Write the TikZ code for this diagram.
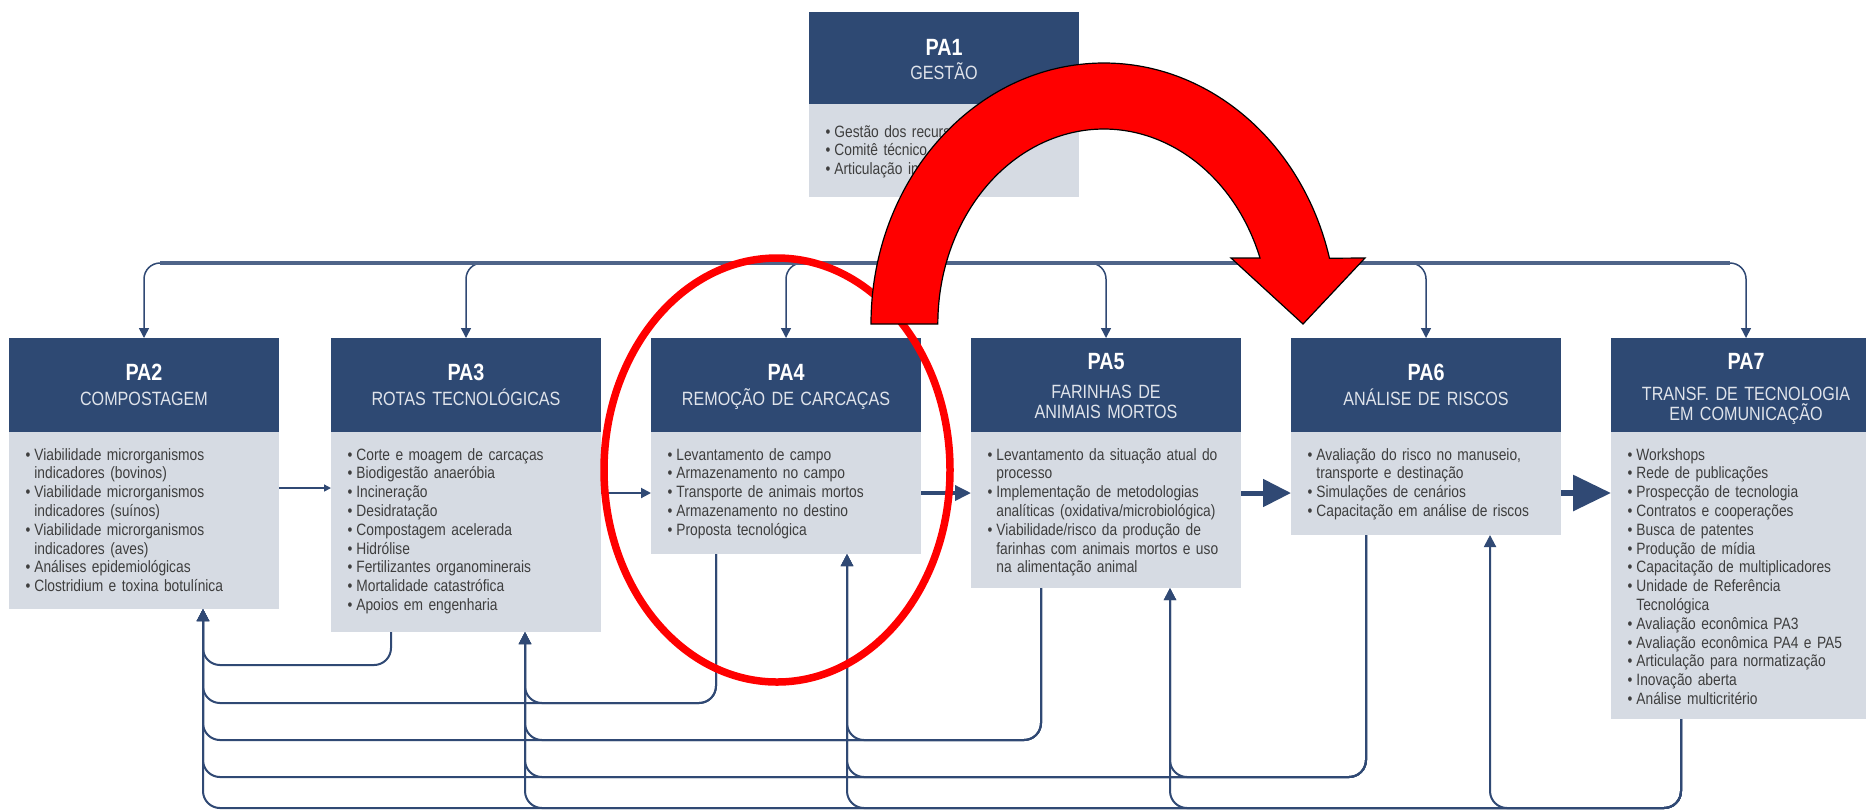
\documentclass[tikz,border=0pt]{standalone}
\usepackage{fontspec}
\usetikzlibrary{arrows.meta,calc}
\newfontfamily\narrowsans{Liberation Sans}[FakeStretch=0.84]
\definecolor{hdrblue}{RGB}{46,73,115}
\definecolor{bodgray}{RGB}{214,219,227}
\definecolor{txtgray}{RGB}{62,62,62}
\definecolor{subgray}{RGB}{224,228,235}
\definecolor{linkblue}{RGB}{48,73,116}
\newcommand\labfont{\narrowsans\bfseries\fontsize{11.75pt}{13pt}\selectfont}
\newcommand\subfont{\narrowsans\fontsize{9.6pt}{10pt}\selectfont}
\newcommand\itemfont{\narrowsans\fontsize{8.2pt}{9.4pt}\selectfont}
% one bulleted entry; the paragraph is closed after the entry
\newcommand\itm[1]{\leavevmode\llap{\textbullet\hspace{2pt}}#1\par}

\begin{document}
\begin{tikzpicture}[x=0.5pt, y=-0.5pt,
  hdr/.style={fill=hdrblue, minimum width=135pt, minimum height=47pt, inner sep=0pt, outer sep=0pt, anchor=north west},
  bod/.style={fill=bodgray, minimum width=135pt, inner sep=0pt, outer sep=0pt, anchor=north west},
  lab/.style={anchor=base, text=white, font=\labfont, inner sep=0pt},
  sub/.style={anchor=base, text=subgray, font=\subfont, inner sep=0pt, text width=135pt, align=center},
  items/.style={anchor=base west, text=txtgray, font=\itemfont, inner sep=0pt, text width=140pt, align=left},
  drop/.style={draw=linkblue, line width=0.75pt},
  bus/.style={draw=linkblue!85!white, line width=2pt},
  fb/.style={draw=linkblue, line width=1pt, rounded corners=8.5pt, -{Triangle[length=6pt,width=6pt]}},
  mark ring/.style={draw=red, line width=3.75pt},
  big arrow/.style={fill=red, draw=black, line width=0.6pt, line join=miter}
]
\useasboundingbox (0,0) rectangle (1866,811);
\clip (0,0) rectangle (1866,811);
\fill[white] (0,0) rectangle (1866,811);

% ---- PA1 (management) ----
\node[hdr, minimum height=46pt] (hd1) at (809,12) {};
\node[bod, minimum height=46.5pt] (pa1) at (809,104) {};
\node[lab] (lb1) at (944,55) {PA1};
\node[sub] (sb1) at (944,79) {GESTÃO};
\node[items] (it1) at (834,137) {\itm{Gestão dos recursos}\itm{Comitê técnico}\itm{Articulação institucional}};

% ---- headers of PA2..PA7 ----
\node[hdr] (hd2) at (9,338) {};
\node[hdr] (hd3) at (331,338) {};
\node[hdr] (hd4) at (651,338) {};
\node[hdr] (hd5) at (971,338) {};
\node[hdr] (hd6) at (1291,338) {};
\node[hdr] (hd7) at (1611,338) {};

% ---- bodies ----
\node[bod, minimum height=88.5pt] (pa2) at (9,432) {};
\node[bod, minimum height=100pt] (pa3) at (331,432) {};
\node[bod, minimum height=61pt] (pa4) at (651,432) {};
\node[bod, minimum height=78pt] (pa5) at (971,432) {};
\node[bod, minimum height=51.5pt] (pa6) at (1291,432) {};
\node[bod, minimum height=143.5pt] (pa7) at (1611,432) {};

% ---- titles ----
\node[lab] (lb2) at (144,380) {PA2};
\node[sub] (sb2) at (144,405) {COMPOSTAGEM};
\node[lab] (lb3) at (466,380) {PA3};
\node[sub] (sb3) at (466,405) {ROTAS TECNOLÓGICAS};
\node[lab] (lb4) at (786,380) {PA4};
\node[sub] (sb4) at (786,405) {REMOÇÃO DE CARCAÇAS};
\node[lab] (lb5) at (1106,369) {PA5};
\node[sub] (sb5) at (1106,398) {FARINHAS DE\\ANIMAIS MORTOS};
\node[lab] (lb6) at (1426,380) {PA6};
\node[sub] (sb6) at (1426,405) {ANÁLISE DE RISCOS};
\node[lab] (lb7) at (1746,369) {PA7};
\node[sub] (sb7) at (1746,400) {TRANSF. DE TECNOLOGIA\\EM COMUNICAÇÃO};

% ---- item lists ----
\node[items] (it2) at (34,460) {%
  \itm{Viabilidade microrganismos\\indicadores (bovinos)}%
  \itm{Viabilidade microrganismos\\indicadores (suínos)}%
  \itm{Viabilidade microrganismos\\indicadores (aves)}%
  \itm{Análises epidemiológicas}%
  \itm{Clostridium e toxina botulínica}};
\node[items] (it3) at (356,460) {%
  \itm{Corte e moagem de carcaças}\itm{Biodigestão anaeróbia}\itm{Incineração}%
  \itm{Desidratação}\itm{Compostagem acelerada}\itm{Hidrólise}%
  \itm{Fertilizantes organominerais}\itm{Mortalidade catastrófica}\itm{Apoios em engenharia}};
\node[items] (it4) at (676,460) {%
  \itm{Levantamento de campo}\itm{Armazenamento no campo}\itm{Transporte de animais mortos}%
  \itm{Armazenamento no destino}\itm{Proposta tecnológica}};
\node[items] (it5) at (996,460) {%
  \itm{Levantamento da situação atual do\\processo}%
  \itm{Implementação de metodologias\\analíticas (oxidativa/microbiológica)}%
  \itm{Viabilidade/risco da produção de\\farinhas com animais mortos e uso\\na alimentação animal}};
\node[items] (it6) at (1316,460) {%
  \itm{Avaliação do risco no manuseio,\\transporte e destinação}%
  \itm{Simulações de cenários}\itm{Capacitação em análise de riscos}};
\node[items] (it7) at (1636,460) {%
  \itm{Workshops}\itm{Rede de publicações}\itm{Prospecção de tecnologia}%
  \itm{Contratos e cooperações}\itm{Busca de patentes}\itm{Produção de mídia}%
  \itm{Capacitação de multiplicadores}\itm{Unidade de Referência\\Tecnológica}%
  \itm{Avaliação econômica PA3}\itm{Avaliação econômica PA4 e PA5}%
  \itm{Articulação para normatização}\itm{Inovação aberta}\itm{Análise multicritério}};

% ---- distribution bus from PA1 ----
\coordinate (bus) at (944,263);
\draw[drop] (pa1.south) -- (bus);
\foreach \n in {2,...,7}{
  \draw[drop, rounded corners=8pt, -{Triangle[length=5pt,width=5pt]}] (bus) -| (hd\n.north);
}
\draw[bus] ($(hd2.north |- bus)+(16,0)$) -- ($(hd7.north |- bus)+(-16,0)$);

% ---- forward flow between work packages ----
\draw[draw=linkblue, line width=0.75pt, -{Triangle[length=3.5pt,width=3.5pt]}]
  ($(pa2.north east)+(0,56)$) -- ($(pa3.north west)+(0,56)$);
\draw[draw=linkblue, line width=1pt, -{Triangle[length=5pt,width=5pt]}]
  ($(pa3.north east)+(0,61)$) -- ($(pa4.north west)+(0,61)$);
\draw[draw=linkblue, line width=1.75pt, -{Triangle[length=8pt,width=7.5pt]}]
  ($(pa4.north east)+(0,61)$) -- ($(pa5.north west)+(0,61)$);
\draw[draw=linkblue, line width=2.5pt, -{Triangle[length=14pt,width=13.5pt]}]
  ($(pa5.north east)+(0,61)$) -- ($(pa6.north west)+(0,61)$);
\draw[draw=linkblue, line width=3pt, -{Triangle[length=19pt,width=17.5pt]}]
  ($(pa6.north east)+(0,61)$) -- ($(pa7.north west)+(0,61)$);

% ---- feedback lines below the boxes ----
\coordinate (d3) at ($(pa3.south west)+(60,0)$);
\coordinate (d4) at ($(pa4.south west)+(65,0)$);
\coordinate (d5) at ($(pa5.south west)+(70,0)$);
\coordinate (d6) at ($(pa6.south west)+(75,0)$);
\coordinate (d7) at ($(pa7.south west)+(70,0)$);
\coordinate (u2) at ($(pa2.south west)+(194,0)$);
\coordinate (u3) at ($(pa3.south west)+(194,0)$);
\coordinate (u4) at ($(pa4.south west)+(196,0)$);
\coordinate (u5) at ($(pa5.south west)+(199,0)$);
\coordinate (u6) at ($(pa6.south west)+(199,0)$);
\coordinate (l3) at (0,665);
\coordinate (l4) at (0,703);
\coordinate (l5) at (0,740);
\coordinate (l6) at (0,777);
\coordinate (l7) at (0,808);
\foreach \k in {3,...,7}{
  \pgfmathtruncatemacro{\last}{\k-1}
  \foreach \j in {2,...,\last}{
    \draw[fb] (d\k) |- (l\k -| u\j) -- (u\j);
  }
}

% ---- red highlight ring and curved arrow ----
\draw[mark ring] (777,470) ellipse [x radius=86.5pt, y radius=106pt];
\filldraw[big arrow] (871,324)
  arc[start angle=180, end angle=14.6, x radius=116.5pt, y radius=130.5pt]
  -- (1365,258) -- (1303,324) -- (1231,258) -- (1260,258)
  arc[start angle=19.8, end angle=180, x radius=83pt, y radius=97.5pt]
  -- cycle;
\end{tikzpicture}
\end{document}
